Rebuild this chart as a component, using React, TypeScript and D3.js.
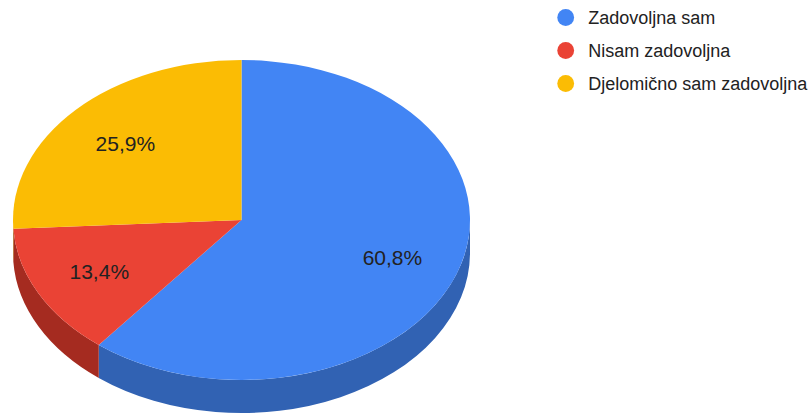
import React from 'react';
import * as d3 from 'd3';

const categories = ['Zadovoljna sam', 'Nisam zadovoljna', 'Djelomično sam zadovoljna'];
const values = [60.8, 13.4, 25.9];
const labels = ['60,8%', '13,4%', '25,9%'];
const topColors = ['#4285f4', '#ea4335', '#fbbc04'];
const sideColors = ['#3162b3', '#a52b20', '#b08503'];

const W = 811;
const H = 414;
const cx = 241.5;
const cy = 220;
const rx = 228.5;
const ry = 160;
const depth = 33;
const k = ry / rx;

export default function App() {
  const pie = d3.pie<number>().sort(null).value(d => d);
  const arcs = pie(values);
  const arc = d3.arc<d3.PieArcDatum<number>>().innerRadius(0).outerRadius(rx);

  // outer wall, only the front half (pi/2 .. 3pi/2) is visible
  const sides = arcs.map((a, i) => {
    const s = Math.max(a.startAngle, Math.PI / 2);
    const e = Math.min(a.endAngle, (3 * Math.PI) / 2);
    if (e <= s) return null;
    const D = depth / k;
    const p = d3.path();
    p.moveTo(rx * Math.sin(s), -rx * Math.cos(s));
    p.arc(0, 0, rx, s - Math.PI / 2, e - Math.PI / 2, false);
    p.lineTo(rx * Math.sin(e), -rx * Math.cos(e) + D);
    p.arc(0, D, rx, e - Math.PI / 2, s - Math.PI / 2, true);
    p.closePath();
    return <path key={i} d={p.toString()} fill={sideColors[i]} />;
  });

  return (
    <div style={{ position: 'absolute', left: 0, top: 0 }}>
      <svg width={W} height={H} style={{ display: 'block', fontFamily: 'Arial, "Liberation Sans", sans-serif' }}>
        <rect width={W} height={H} fill="#fff" />
        <g transform={`translate(${cx},${cy}) scale(1,${k})`}>
          {sides}
          {arcs.map((a, i) => (
            <path key={i} d={arc(a) || ''} fill={topColors[i]} />
          ))}
        </g>
        {arcs.map((a, i) => {
          const m = (a.startAngle + a.endAngle) / 2;
          const x = cx + 0.7 * rx * Math.sin(m);
          const y = cy - 0.7 * ry * Math.cos(m);
          return (
            <text key={i} x={x} y={y} dy="0.36em" textAnchor="middle" fontSize={21} fill="#222">
              {labels[i]}
            </text>
          );
        })}
        <g>
          {categories.map((c, i) => (
            <g key={i} transform={`translate(565.7,${17.5 + i * 33})`}>
              <circle r={8.4} fill={topColors[i]} />
              <text x={22.5} dy="0.36em" fontSize={18} fill="#222">{c}</text>
            </g>
          ))}
        </g>
      </svg>
    </div>
  );
}
